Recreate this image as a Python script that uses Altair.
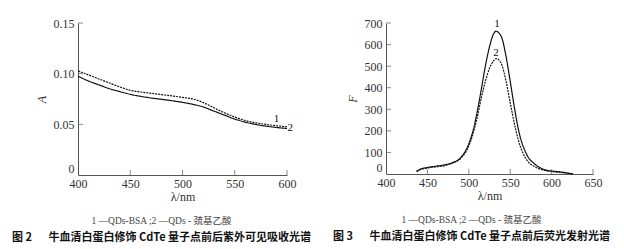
import altair as alt
import pandas as pd

# ---------- data: UV-vis absorption (figure 2) ----------
abs_wl = [400, 410, 420, 430, 440, 450, 460, 470, 480, 490, 500,
          510, 520, 530, 540, 550, 560, 570, 580, 590, 600]
abs_1 = [0.1027, 0.0988, 0.0948, 0.0908, 0.0869, 0.0836, 0.0819, 0.0806, 0.0793, 0.0780, 0.0766,
         0.0750, 0.0714, 0.0664, 0.0614, 0.0572, 0.0538, 0.0515, 0.0499, 0.0486, 0.0476]
abs_2 = [0.0975, 0.0928, 0.0889, 0.0852, 0.0823, 0.0796, 0.0776, 0.0760, 0.0747, 0.0733, 0.0717,
         0.0697, 0.0671, 0.0631, 0.0591, 0.0552, 0.0522, 0.0499, 0.0482, 0.0469, 0.0459]

# ---------- data: fluorescence emission (figure 3) ----------
fl_wl = [437, 440, 450, 460, 470, 480, 490, 500, 505, 510, 515, 520, 525, 530, 533,
         536, 540, 545, 550, 555, 560, 570, 580, 590, 600, 610, 620, 626]
fl_1 = [12, 20, 30, 36, 42, 52, 75, 140, 200, 285, 390, 500, 590, 650, 662,
        655, 630, 545, 430, 310, 205, 90, 45, 22, 14, 10, 4, 0]
fl_2 = [10, 18, 28, 33, 38, 50, 72, 130, 185, 260, 350, 430, 490, 525, 535,
        530, 505, 430, 330, 235, 155, 65, 33, 18, 11, 7, 3, 0]

left_xvals = [400, 450, 500, 550, 600]
left_yvals = [0, 0.05, 0.10, 0.15]
right_xvals = [400, 450, 500, 550, 600, 650]
right_yvals = [0, 100, 200, 300, 400, 500, 600, 700]

left_labels_wl = [590, 603]
left_labels_A = [0.0553, 0.0464]
right_labels_wl = [534, 533]
right_labels_F = [695, 561]
curve_names = ["1", "2"]

legend_text = "1 —QDs-BSA ;2 —QDs - 巯基乙酸"
caption_2 = "图 2\u2003\u2002牛血清白蛋白修饰 CdTe 量子点前后紫外可见吸收光谱"
caption_3 = "图 3\u2003\u2002牛血清白蛋白修饰 CdTe 量子点前后荧光发射光谱"

SERIF = "Liberation Serif"
INK = "#111111"
AX = "#555555"

df_abs = pd.DataFrame({
    "wl": abs_wl + abs_wl,
    "A": abs_1 + abs_2,
    "s": ["1"] * len(abs_wl) + ["2"] * len(abs_wl),
})
df_fl = pd.DataFrame({
    "wl": fl_wl + fl_wl,
    "F": fl_1 + fl_2,
    "c": ["1"] * len(fl_wl) + ["2"] * len(fl_wl),
})


def make_title(text, sub, dx):
    return alt.TitleParams(
        text=text, subtitle=sub, orient="bottom", anchor="middle", frame="group",
        dx=dx, offset=14, font=SERIF + ", Noto Sans CJK SC", fontSize=9.5,
        fontWeight="normal", color="#444444",
        subtitleFont="Noto Sans CJK SC", subtitleFontSize=11,
        subtitleFontWeight="bold", subtitleColor="#111111", subtitlePadding=6,
    )


def axis_x(vals):
    return alt.Axis(values=vals, title="λ/nm", tickSize=0, labelPadding=3,
                    titlePadding=2, grid=False, format="d", labelOverlap=False,
                    labelFlush=False, titleFontWeight="normal")


def axis_y(vals, title, fmt_expr):
    return alt.Axis(values=vals, title=title, tickSize=0, labelPadding=4,
                    titlePadding=5, grid=False, labelExpr=fmt_expr, labelOverlap=False,
                    labelFlush=False, titleFontStyle="italic", titleFontWeight="normal",
                    labelBaseline={"condition": {"test": "datum.value == 0", "value": "bottom"},
                                   "value": "middle"})


# ---------- left panel ----------
xL = alt.X("wl:Q", scale=alt.Scale(domain=[400, 600], nice=False), axis=axis_x(left_xvals))
yL = alt.Y("A:Q", scale=alt.Scale(domain=[0, 0.15], nice=False),
           axis=axis_y(left_yvals, "A", "datum.value == 0 ? '0' : format(datum.value, '.2f')"))

linesL = alt.Chart(df_abs).mark_line(color=INK, strokeWidth=1.2, interpolate="monotone").encode(
    x=xL, y=yL,
    strokeDash=alt.StrokeDash("s:N", scale=alt.Scale(domain=["1", "2"], range=[[2, 1], [1, 0]]), legend=None),
    detail="s:N",
)
ytL = alt.Chart(pd.DataFrame({"A": left_yvals[1:], "wl": [400] * 3})).mark_tick(
    orient="horizontal", size=5, thickness=1, color=AX, xOffset=2.5
).encode(x=xL, y=yL)
xtL = alt.Chart(pd.DataFrame({"wl": left_xvals[1:], "A": [0] * 4})).mark_tick(
    orient="vertical", size=5, thickness=1, color=AX, yOffset=-2.5
).encode(x=xL, y=yL)
labL = alt.Chart(pd.DataFrame({"wl": left_labels_wl, "A": left_labels_A, "t": curve_names})).mark_text(
    font=SERIF, fontSize=11, color=INK
).encode(x=xL, y=yL, text="t:N")

left = alt.layer(linesL, ytL, xtL, labL).properties(
    width=209, height=152, title=make_title(legend_text, caption_2, -21)
)

# ---------- right panel ----------
xR = alt.X("wl:Q", scale=alt.Scale(domain=[400, 650], nice=False), axis=axis_x(right_xvals))
yR = alt.Y("F:Q", scale=alt.Scale(domain=[0, 700], nice=False),
           axis=axis_y(right_yvals, "F", "format(datum.value, 'd')"))

linesR = alt.Chart(df_fl).mark_line(color=INK, strokeWidth=1.2, interpolate="monotone").encode(
    x=xR, y=yR,
    strokeDash=alt.StrokeDash("c:N", scale=alt.Scale(domain=["1", "2"], range=[[1, 0], [2, 1]]), legend=None),
    detail="c:N",
)
ytR = alt.Chart(pd.DataFrame({"F": right_yvals[1:], "wl": [400] * 7})).mark_tick(
    orient="horizontal", size=5, thickness=1, color=AX, xOffset=2.5
).encode(x=xR, y=yR)
xtR = alt.Chart(pd.DataFrame({"wl": right_xvals[1:], "F": [0] * 5})).mark_tick(
    orient="vertical", size=5, thickness=1, color=AX, yOffset=-2.5
).encode(x=xR, y=yR)
labR = alt.Chart(pd.DataFrame({"wl": right_labels_wl, "F": right_labels_F, "t": curve_names})).mark_text(
    font=SERIF, fontSize=11, color=INK
).encode(x=xR, y=yR, text="t:N")

right = alt.layer(linesR, ytR, xtR, labR).properties(
    width=207, height=151, title=make_title(legend_text, caption_3, -18)
)

chart = alt.hconcat(left, right, spacing=99, bounds="flush").resolve_scale(
    strokeDash="independent"
).properties(
    padding={"left": 3, "top": 9, "right": 0, "bottom": 0},
    background="white",
).configure_view(stroke=None).configure_axis(
    labelFont=SERIF, labelFontSize=12, labelColor="#333333",
    titleFont=SERIF, titleFontSize=12, titleColor="#333333",
    domainColor=AX, domainWidth=1,
)

chart.save("out.html", embed_options={"renderer": "svg", "actions": False})
